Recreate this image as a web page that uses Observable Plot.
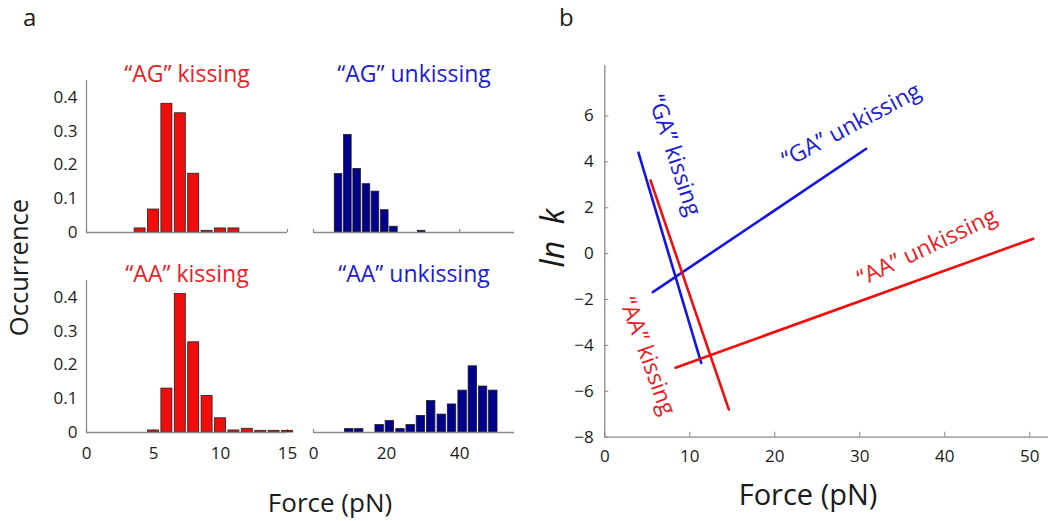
<!DOCTYPE html>
<html>
<head>
<meta charset="utf-8">
<script src="https://cdn.jsdelivr.net/npm/d3@7"></script>
<script src="https://cdn.jsdelivr.net/npm/@observablehq/plot@0.6"></script>
<style>
  html, body { margin: 0; padding: 0; background: #fff; }
  #chart { position: relative; width: 1050px; height: 521px; overflow: hidden; background: #fff; font-family: "Open Sans", sans-serif; }
  .cell { position: absolute; }
  #labels { position: absolute; left: 0; top: 0; pointer-events: none; }
</style>
</head>
<body>
<div id="chart"></div>
<script>
// ---------- Panel a: histogram data (bin centres in pN, occurrence) ----------
const agKissForce = [4, 5, 6, 7, 8, 9, 10, 11];
const agKissOcc   = [0.012, 0.068, 0.381, 0.353, 0.174, 0.005, 0.012, 0.012];
const agKissBin   = 1;

const agUnkissForce = [6.85, 9.4, 11.95, 14.5, 16.95, 19.5, 22.0, 29.6];
const agUnkissOcc   = [0.173, 0.289, 0.188, 0.143, 0.121, 0.066, 0.017, 0.005];
const agUnkissBin   = 2.53;

const aaKissForce = [5, 6, 7, 8, 9, 10, 11, 12, 13, 14, 15];
const aaKissOcc   = [0.006, 0.13, 0.41, 0.267, 0.108, 0.042, 0.006, 0.011, 0.005, 0.005, 0.005];
const aaKissBin   = 1;

const aaUnkissForce = [9.8, 12.5, 18.1, 20.9, 23.8, 26.6, 29.4, 32.2, 35.1, 37.9, 40.8, 43.6, 46.4, 49.2];
const aaUnkissOcc   = [0.01, 0.01, 0.022, 0.034, 0.01, 0.022, 0.049, 0.093, 0.053, 0.083, 0.124, 0.196, 0.136, 0.124];
const aaUnkissBin   = 2.82;

const histTitles = ["“AG” kissing", "“AG” unkissing", "“AA” kissing", "“AA” unkissing"];
const occDomain = [0, 0.45];
const occTicks = [0, 0.1, 0.2, 0.3, 0.4];
const kissDomain = [0, 15];
const kissTicks = [0, 5, 10, 15];
const unkissDomain = [0, 55];
const unkissTicks = [0, 20, 40];

// ---------- Panel b: ln k vs force lines ----------
const lineNames   = ["“GA” kissing", "“GA” unkissing", "“AA” kissing", "“AA” unkissing"];
const lineForce   = [[3.96, 11.34], [5.65, 30.75], [5.38, 14.59], [8.32, 50.4]];
const lineLnK     = [[4.40, -4.76], [-1.68, 4.57], [3.19, -6.79], [-4.97, 0.65]];
const labelForce  = [8.2, 29.0, 5.0, 37.9];
const labelLnK    = [4.28, 5.59, -4.47, 0.28];
const forceDomainB = [0, 52.2];
const lnkDomain   = [-8, 8.2];
const forceTicksB = [0, 10, 20, 30, 40, 50];
const lnkTicks    = [-8, -6, -4, -2, 0, 2, 4, 6];

// ---------- styles ----------
const RED = "#f20d0d";
const RED_TEXT = "#ec1c24";
const NAVY = "#00008c";
const BLUE_TEXT = "#1c1cd2";
const BLUE_LINE = "#1414e6";
const AXIS = "#8a8a8a";
const INK = "#1a1a1a";
const labelRotate = [72, -28, 70, -25.5];
const lineColors = [BLUE_LINE, BLUE_LINE, RED, RED];
const labelColors = [BLUE_TEXT, BLUE_TEXT, RED_TEXT, RED_TEXT];

const chart = document.getElementById("chart");
function place(el, left, top) {
  const d = document.createElement("div");
  d.className = "cell";
  d.style.left = left + "px";
  d.style.top = top + "px";
  d.append(el);
  chart.append(d);
}
const baseStyle = { background: "transparent", overflow: "visible", fontFamily: "Open Sans, sans-serif", color: INK };

function hist(cfg) {
  const { box, frame, force, occ, bin, fill, title, titleColor, xDomain, xTicks, showX, showY } = cfg;
  const [left, top, width, height] = box;
  const bars = force.map((f, i) => ({ x1: f - bin * 0.41, x2: f + bin * 0.41, y: occ[i] }));
  const marks = [
    Plot.ruleX(xTicks, { y1: occDomain[0], y2: occDomain[1] * 0.02, stroke: AXIS, strokeWidth: 1.2 }),
    Plot.rectY(bars, { x1: "x1", x2: "x2", y: "y", fill, stroke: "#1e1e1e", strokeWidth: 0.8 }),
    Plot.ruleY([occDomain[0]], { stroke: AXIS, strokeWidth: 1.3 }),
    Plot.text([title], { frameAnchor: "top", lineAnchor: "bottom", dy: 1, fontSize: 23, fill: titleColor })
  ];
  if (showY) {
    marks.push(Plot.ruleX([xDomain[0]], { y1: occDomain[0], y2: occDomain[1], stroke: AXIS, strokeWidth: 1.3 }));
    marks.push(Plot.axisY(occTicks, { tickSize: 0, tickPadding: 9, fontSize: 17, fill: INK, label: null, tickFormat: d => `${d}` }));
  }
  if (showX) {
    marks.push(Plot.axisX(xTicks, { tickSize: 0, tickPadding: 14, fontSize: 17, fill: INK, label: null, tickFormat: d => `${d}` }));
  }
  const p = Plot.plot({
    width, height,
    marginLeft: frame[0] - left,
    marginRight: left + width - frame[1],
    marginTop: frame[2] - top,
    marginBottom: top + height - frame[3],
    x: { domain: xDomain, axis: showX ? undefined : null },
    y: { domain: occDomain, axis: showY ? undefined : null },
    style: baseStyle,
    marks
  });
  place(p, left, top);
}

hist({ box: [0, 40, 300, 210], frame: [86, 287, 80, 232], force: agKissForce, occ: agKissOcc, bin: agKissBin,
  fill: RED, title: histTitles[0], titleColor: RED_TEXT, xDomain: kissDomain, xTicks: kissTicks, showX: false, showY: true });
hist({ box: [300, 40, 230, 210], frame: [313, 514, 80, 232], force: agUnkissForce, occ: agUnkissOcc, bin: agUnkissBin,
  fill: NAVY, title: histTitles[1], titleColor: BLUE_TEXT, xDomain: unkissDomain, xTicks: unkissTicks, showX: false, showY: false });
hist({ box: [0, 240, 300, 240], frame: [86, 287, 280, 432], force: aaKissForce, occ: aaKissOcc, bin: aaKissBin,
  fill: RED, title: histTitles[2], titleColor: RED_TEXT, xDomain: kissDomain, xTicks: kissTicks, showX: true, showY: true });
hist({ box: [300, 240, 230, 240], frame: [313, 514, 280, 432], force: aaUnkissForce, occ: aaUnkissOcc, bin: aaUnkissBin,
  fill: NAVY, title: histTitles[3], titleColor: BLUE_TEXT, xDomain: unkissDomain, xTicks: unkissTicks, showX: true, showY: false });

// ---------- Panel b ----------
{
  const left = 540, top = 40, width = 510, height = 481;
  const frame = [604.3, 1048, 65, 436.7];
  const marks = [
    Plot.ruleX([forceDomainB[0]], { y1: lnkDomain[0], y2: lnkDomain[1], stroke: AXIS, strokeWidth: 1.3 }),
    Plot.ruleY([lnkDomain[0]], { stroke: AXIS, strokeWidth: 1.3 }),
    Plot.axisX(forceTicksB, { tickSize: -5, tickPadding: 18, fontSize: 17, stroke: AXIS, fill: INK, label: null, tickFormat: d3.format("d") }),
    Plot.axisY(lnkTicks, { tickSize: -4, tickPadding: 15, fontSize: 17, stroke: AXIS, fill: INK, label: null, tickFormat: d3.format("d") })
  ];
  lineNames.forEach((name, i) => {
    const pts = lineForce[i].map((f, j) => ({ force: f, lnk: lineLnK[i][j] }));
    marks.push(Plot.line(pts, { x: "force", y: "lnk", stroke: lineColors[i], strokeWidth: 2.6 }));
  });
  lineNames.forEach((name, i) => {
    marks.push(Plot.text([name], { x: () => labelForce[i], y: () => labelLnK[i], rotate: labelRotate[i], fontSize: 23, fill: labelColors[i], textAnchor: "middle", lineAnchor: "middle" }));
  });
  const p = Plot.plot({
    width, height,
    marginLeft: frame[0] - left,
    marginRight: left + width - frame[1],
    marginTop: frame[2] - top,
    marginBottom: top + height - frame[3],
    x: { domain: forceDomainB },
    y: { domain: lnkDomain },
    style: baseStyle,
    marks
  });
  place(p, left, top);
}

// ---------- Panel letters and axis titles ----------
const svg = d3.create("svg").attr("id", "labels").attr("width", 1050).attr("height", 521)
  .style("font-family", "Open Sans, sans-serif").style("fill", INK);
svg.append("text").attr("x", 23).attr("y", 26).attr("font-size", 24).text("a");
svg.append("text").attr("x", 559).attr("y", 26).attr("font-size", 24).text("b");
svg.append("text").attr("transform", "translate(28,267.5) rotate(-90)").attr("text-anchor", "middle").attr("font-size", 25.5).text("Occurrence");
svg.append("text").attr("x", 330).attr("y", 512).attr("text-anchor", "middle").attr("font-size", 26).text("Force (pN)");
svg.append("text").attr("transform", "translate(564,238) rotate(-90)").attr("text-anchor", "middle").attr("font-size", 32).attr("font-style", "italic").text("ln\u00a0\u00a0k");
svg.append("text").attr("x", 808).attr("y", 505).attr("text-anchor", "middle").attr("font-size", 29).text("Force (pN)");
chart.append(svg.node());
</script>
</body>
</html>
